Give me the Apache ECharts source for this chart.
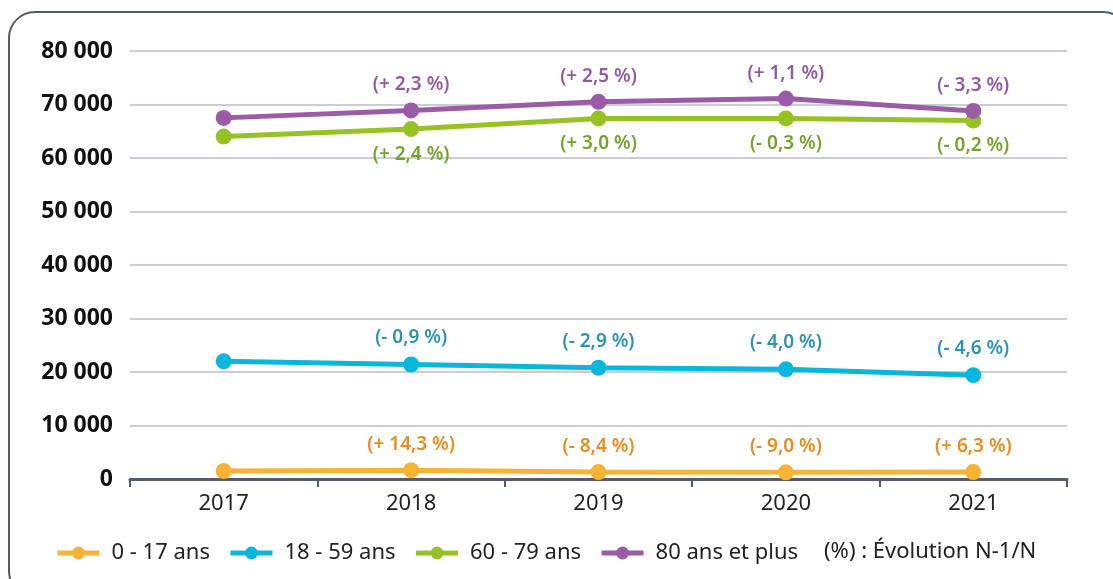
<!DOCTYPE html>
<html>
<head>
<meta charset="utf-8">
<script src="https://cdn.jsdelivr.net/npm/echarts@6/dist/echarts.min.js"></script>
<style>
  html, body { margin: 0; padding: 0; background: #fff; }
  #chart { width: 1113px; height: 579px; }
</style>
</head>
<body>
<div id="chart"></div>
<script>
// categories
var years = ['2017', '2018', '2019', '2020', '2021'];

// values
var age0_17 = [1500, 1650, 1300, 1250, 1300];
var age18_59 = [22000, 21400, 20800, 20500, 19400];
var age60_79 = [64000, 65400, 67400, 67400, 67000];
var age80plus = [67500, 68900, 70500, 71100, 68800];

// evolution labels N-1/N
var evo0_17 = ['', '(+ 14,3 %)', '(- 8,4 %)', '(- 9,0 %)', '(+ 6,3 %)'];
var evo18_59 = ['', '(- 0,9 %)', '(- 2,9 %)', '(- 4,0 %)', '(- 4,6 %)'];
var evo60_79 = ['', '(+ 2,4 %)', '(+ 3,0 %)', '(- 0,3 %)', '(- 0,2 %)'];
var evo80plus = ['', '(+ 2,3 %)', '(+ 2,5 %)', '(+ 1,1 %)', '(- 3,3 %)'];

var yTicks = [0, 10000, 20000, 30000, 40000, 50000, 60000, 70000, 80000];

var font = 'Noto Sans';

function makeSeries(name, values, labels, lineColor, labelColor, pos, dist) {
  return {
    name: name,
    type: 'line',
    data: values,
    symbol: 'circle',
    symbolSize: 16,
    lineStyle: { width: 5, color: lineColor },
    itemStyle: { color: lineColor },
    label: {
      show: true,
      position: pos,
      distance: dist,
      color: labelColor,
      fontFamily: font,
      fontSize: 19,
      fontWeight: 600,
      formatter: function (p) { return labels[p.dataIndex]; }
    },
    emphasis: { disabled: true },
    animation: false
  };
}

var chart = echarts.init(document.getElementById('chart'));
chart.setOption({
  backgroundColor: '#fff',
  animation: false,
  grid: { left: 130, right: 46, top: 51, bottom: 100 },
  legend: {
    left: 50,
    top: 537,
    itemWidth: 42,
    itemHeight: 16,
    itemGap: 18,
    lineStyle: { width: 5 },
    textStyle: { fontFamily: font, fontSize: 22, color: '#222', padding: [0, 0, 0, 7] },
    data: ['0 - 17 ans', '18 - 59 ans', '60 - 79 ans', '80 ans et plus']
  },
  xAxis: {
    type: 'category',
    data: years,
    boundaryGap: true,
    axisLine: { lineStyle: { color: '#555c68', width: 3 } },
    axisTick: { show: true, length: 8, lineStyle: { color: '#555c68', width: 2 } },
    axisLabel: { margin: 14, fontFamily: font, fontSize: 22, color: '#222' },
    splitLine: { show: false }
  },
  yAxis: {
    type: 'value',
    min: yTicks[0],
    max: yTicks[yTicks.length - 1],
    interval: yTicks[1] - yTicks[0],
    axisLine: { show: false },
    axisTick: { show: false },
    axisLabel: {
      margin: 17,
      fontFamily: font,
      fontSize: 23,
      fontWeight: 'bold',
      color: '#111',
      formatter: function (v) { return String(v).replace(/\B(?=(\d{3})+(?!\d))/g, ' '); }
    },
    splitLine: { lineStyle: { color: '#b9bdc6', width: 1.5 } }
  },
  graphic: [
    {
      type: 'rect',
      shape: { x: 9, y: 12, width: 1120, height: 585, r: 26 },
      style: { fill: 'none', stroke: '#555c68', lineWidth: 2 },
      silent: true
    },
    {
      type: 'text',
      left: 824,
      top: 541,
      style: { text: '(%) : Évolution N-1/N', fontFamily: font, fontSize: 22, fill: '#222' }
    }
  ],
  series: [
    makeSeries('0 - 17 ans', age0_17, evo0_17, '#f8b334', '#ec8a1c', 'top', 8),
    makeSeries('18 - 59 ans', age18_59, evo18_59, '#09b7dc', '#2a92b5', 'top', 9),
    makeSeries('60 - 79 ans', age60_79, evo60_79, '#97c224', '#74a22b', 'bottom', 8),
    makeSeries('80 ans et plus', age80plus, evo80plus, '#9b5ba6', '#8f5aa0', 'top', 8)
  ]
});
</script>
</body>
</html>
